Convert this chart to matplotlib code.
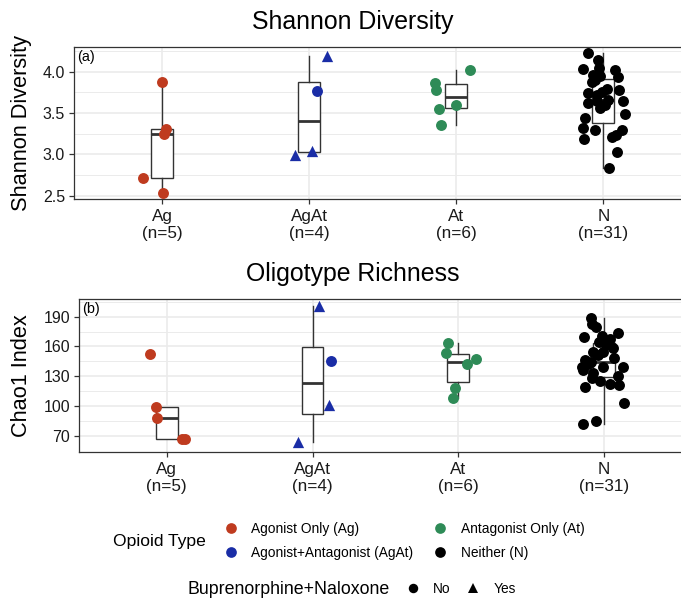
import matplotlib
matplotlib.use("Agg")
import matplotlib.pyplot as plt
from matplotlib.lines import Line2D
from matplotlib.ticker import FixedLocator
import numpy as np

plt.rcParams['font.family'] = ['Liberation Sans', 'DejaVu Sans']

# ---------------- data ----------------
categories = ["Ag", "AgAt", "At", "N"]
cat_counts = [5, 4, 6, 31]
cat_colors = ["#BF3B1F", "#1A2DA6", "#2E8B57", "#000000"]
legend_labels = ["Agonist Only (Ag)", "Agonist+Antagonist (AgAt)",
                 "Antagonist Only (At)", "Neither (N)"]

# Shannon diversity
ag_shannon = [3.87, 3.307, 3.24, 2.715, 2.53]
ag_shannon_jit = [0.0, 0.023, 0.01, -0.132, 0.005]
agat_shannon = [2.99, 3.04, 4.19, 3.77]
agat_shannon_jit = [-0.098, 0.02, 0.119, 0.055]
at_shannon = [3.867, 3.78, 4.02, 3.545, 3.597, 3.355]
at_shannon_jit = [-0.145, -0.138, 0.095, -0.116, 0.0, -0.107]
n_shannon = [2.84, 3.03, 3.19, 3.21, 3.23, 3.29, 3.30, 3.32, 3.44, 3.49,
             3.56, 3.60, 3.62, 3.64, 3.64, 3.66, 3.72, 3.74, 3.76, 3.78,
             3.79, 3.88, 3.90, 3.93, 3.95, 3.96, 4.02, 4.03, 4.04, 4.14, 4.22]
n_shannon_jit = [0.041, 0.093, -0.130, 0.057, 0.087, 0.125, -0.057, -0.136, -0.125, 0.148,
                 -0.022, 0.011, -0.102, -0.043, 0.136, 0.032, -0.045, -0.102, -0.009, 0.109,
                 0.023, -0.079, -0.057, 0.102, -0.022, -0.070, 0.080, -0.136, -0.027, -0.034, -0.102]

# Chao1 richness
ag_chao = [152.4, 99.2, 88.2, 66.4, 66.6]
ag_chao_jit = [-0.116, -0.075, -0.064, 0.107, 0.123]
agat_chao = [64.0, 201.0, 101.0, 145.3]
agat_chao_jit = [-0.1, 0.046, 0.116, 0.128]
at_chao = [163.8, 153.7, 147.0, 142.3, 117.8, 108.3]
at_chao_jit = [-0.073, -0.084, 0.119, 0.062, -0.023, -0.038]
n_chao = [81.5, 85.1, 103.3, 119.4, 121.1, 122.1, 125.5, 127.9, 130.0, 132.9,
          136.3, 139.0, 139.6, 139.6, 142.0, 144.6, 146.3, 148.0, 151.0, 154.7,
          154.7, 158.1, 161.5, 164.5, 167.2, 169.2, 170.5, 173.3, 179.3, 183.0, 188.4]
n_chao_jit = [-0.146, -0.055, 0.137, -0.130, 0.105, 0.041, -0.027, -0.084, 0.098, -0.073,
              -0.142, -0.005, -0.153, 0.132, -0.110, -0.091, -0.130, 0.068, -0.041, -0.073,
              -0.005, 0.060, 0.014, -0.032, 0.041, -0.137, -0.016, 0.098, -0.055, -0.082, -0.091]

# Buprenorphine+Naloxone flags (per sample, same order as values)
ag_bupe = ["No"] * 5
agat_bupe = ["Yes", "Yes", "Yes", "No"]
at_bupe = ["No"] * 6
n_bupe = ["No"] * 31

shannon_ticks = [2.5, 3.0, 3.5, 4.0]
shannon_minor = [2.75, 3.25, 3.75, 4.25]
chao_ticks = [70, 100, 130, 160, 190]
chao_minor = [85, 115, 145, 175, 205]

# ---------------- figure ----------------
W, H = 681, 599
fig = plt.figure(figsize=(W / 100, H / 100), dpi=100)

ax1 = fig.add_axes([74 / W, 1 - 199.3 / H, 617.5 / W, 152 / H])
ax2 = fig.add_axes([79.3 / W, 1 - 452.3 / H, 612.2 / W, 153 / H])

edge = "#333333"
grid_c = "#EBEBEB"


def draw_panel(ax, vals, jits, bupes, ylim, ticks, minor, ticklabels, ylabel, tag, ylab_x):
    ax.set_xlim(-0.6, 3.6)
    ax.set_ylim(*ylim)
    ax.set_axisbelow(True)
    ax.yaxis.set_major_locator(FixedLocator(ticks))
    ax.yaxis.set_minor_locator(FixedLocator(minor))
    ax.set_yticklabels(ticklabels)
    ax.grid(which="major", color=grid_c, lw=1.2)
    ax.grid(which="minor", axis="y", color=grid_c, lw=0.7)
    for sp in ax.spines.values():
        sp.set_color(edge)
        sp.set_linewidth(0.9)
    ax.boxplot(vals, positions=range(len(categories)), widths=0.15,
               showfliers=False, showcaps=False, patch_artist=True,
               boxprops=dict(facecolor="white", edgecolor=edge, lw=1.0),
               medianprops=dict(color=edge, lw=2.0),
               whiskerprops=dict(color=edge, lw=1.0), zorder=2)
    for i, (v, j, b) in enumerate(zip(vals, jits, bupes)):
        v = np.asarray(v)
        j = np.asarray(j)
        b = np.asarray(b)
        for flag, mk in (("No", "o"), ("Yes", "^")):
            m = b == flag
            if m.any():
                ax.scatter(i + j[m], v[m], marker=mk, s=62 if mk == "o" else 66,
                           color=cat_colors[i], linewidths=0, zorder=3)
    ax.set_xticks(range(len(categories)))
    ax.set_xticklabels([f"{c}\n(n={n})" for c, n in zip(categories, cat_counts)],
                       fontsize=12.3, linespacing=1.2)
    ax.tick_params(axis="x", which="major", length=3.5, width=0.9, color=edge,
                   pad=3.5, labelcolor="#1a1a1a")
    ax.tick_params(axis="y", which="major", length=3.5, width=0.9, color=edge,
                   pad=3, labelsize=11.5, labelcolor="#1a1a1a")
    ax.tick_params(which="minor", length=0)
    ax.set_ylabel(ylabel, fontsize=15.7, va="center")
    ax.yaxis.set_label_coords(ylab_x, 0.5)
    ax.annotate(tag, xy=(0, 1), xycoords="axes fraction", xytext=(2, -2),
                textcoords="offset points", ha="left", va="top", fontsize=10.4)


draw_panel(ax1,
           [ag_shannon, agat_shannon, at_shannon, n_shannon],
           [ag_shannon_jit, agat_shannon_jit, at_shannon_jit, n_shannon_jit],
           [ag_bupe, agat_bupe, at_bupe, n_bupe],
           (2.456, 4.295), shannon_ticks, shannon_minor,
           [f"{t:.1f}" for t in shannon_ticks], "Shannon Diversity", "(a)",
           (21.5 - 74) / 617.5)

draw_panel(ax2,
           [ag_chao, agat_chao, at_chao, n_chao],
           [ag_chao_jit, agat_chao_jit, at_chao_jit, n_chao_jit],
           [ag_bupe, agat_bupe, at_bupe, n_bupe],
           (53.3, 207.5), chao_ticks, chao_minor,
           [str(t) for t in chao_ticks], "Chao1 Index", "(b)",
           (22 - 79.3) / 612.2)

# titles
fig.text(352.5 / W, 1 - 29.3 / H, "Shannon Diversity", ha="center", va="baseline", fontsize=17.9)
fig.text(352.5 / W, 1 - 281.0 / H, "Oligotype Richness", ha="center", va="baseline", fontsize=17.9)

# legends
fs_leg = 9.9
px_per_fs = fs_leg * 100 / 72
h1 = [Line2D([], [], marker="o", ls="", color=c, ms=7.7, mew=0) for c in cat_colors]
fig.legend(h1, legend_labels, ncol=2, loc="center left",
           bbox_to_anchor=((230.7 - 0.5 * px_per_fs) / W, 1 - 541.15 / H),
           frameon=False, fontsize=fs_leg, handlelength=1.0, handletextpad=1.0,
           columnspacing=1.46, labelspacing=0.72, borderpad=0, borderaxespad=0)
fig.text(112.7 / W, 1 - 541.7 / H, "Opioid Type", ha="left", va="center", fontsize=12.6)

h2 = [Line2D([], [], marker="o", ls="", color="black", ms=6.8, mew=0),
      Line2D([], [], marker="^", ls="", color="black", ms=7.6, mew=0)]
fig.legend(h2, ["No", "Yes"], ncol=2, loc="center left",
           bbox_to_anchor=((412.7 - 0.5 * px_per_fs) / W, 1 - 589 / H),
           frameon=False, fontsize=fs_leg, handlelength=1.0, handletextpad=1.0,
           columnspacing=1.13, borderpad=0, borderaxespad=0)
fig.text(187.3 / W, 1 - 589 / H, "Buprenorphine+Naloxone", ha="left", va="center", fontsize=12.8)

fig.savefig("out.png", dpi=100)
